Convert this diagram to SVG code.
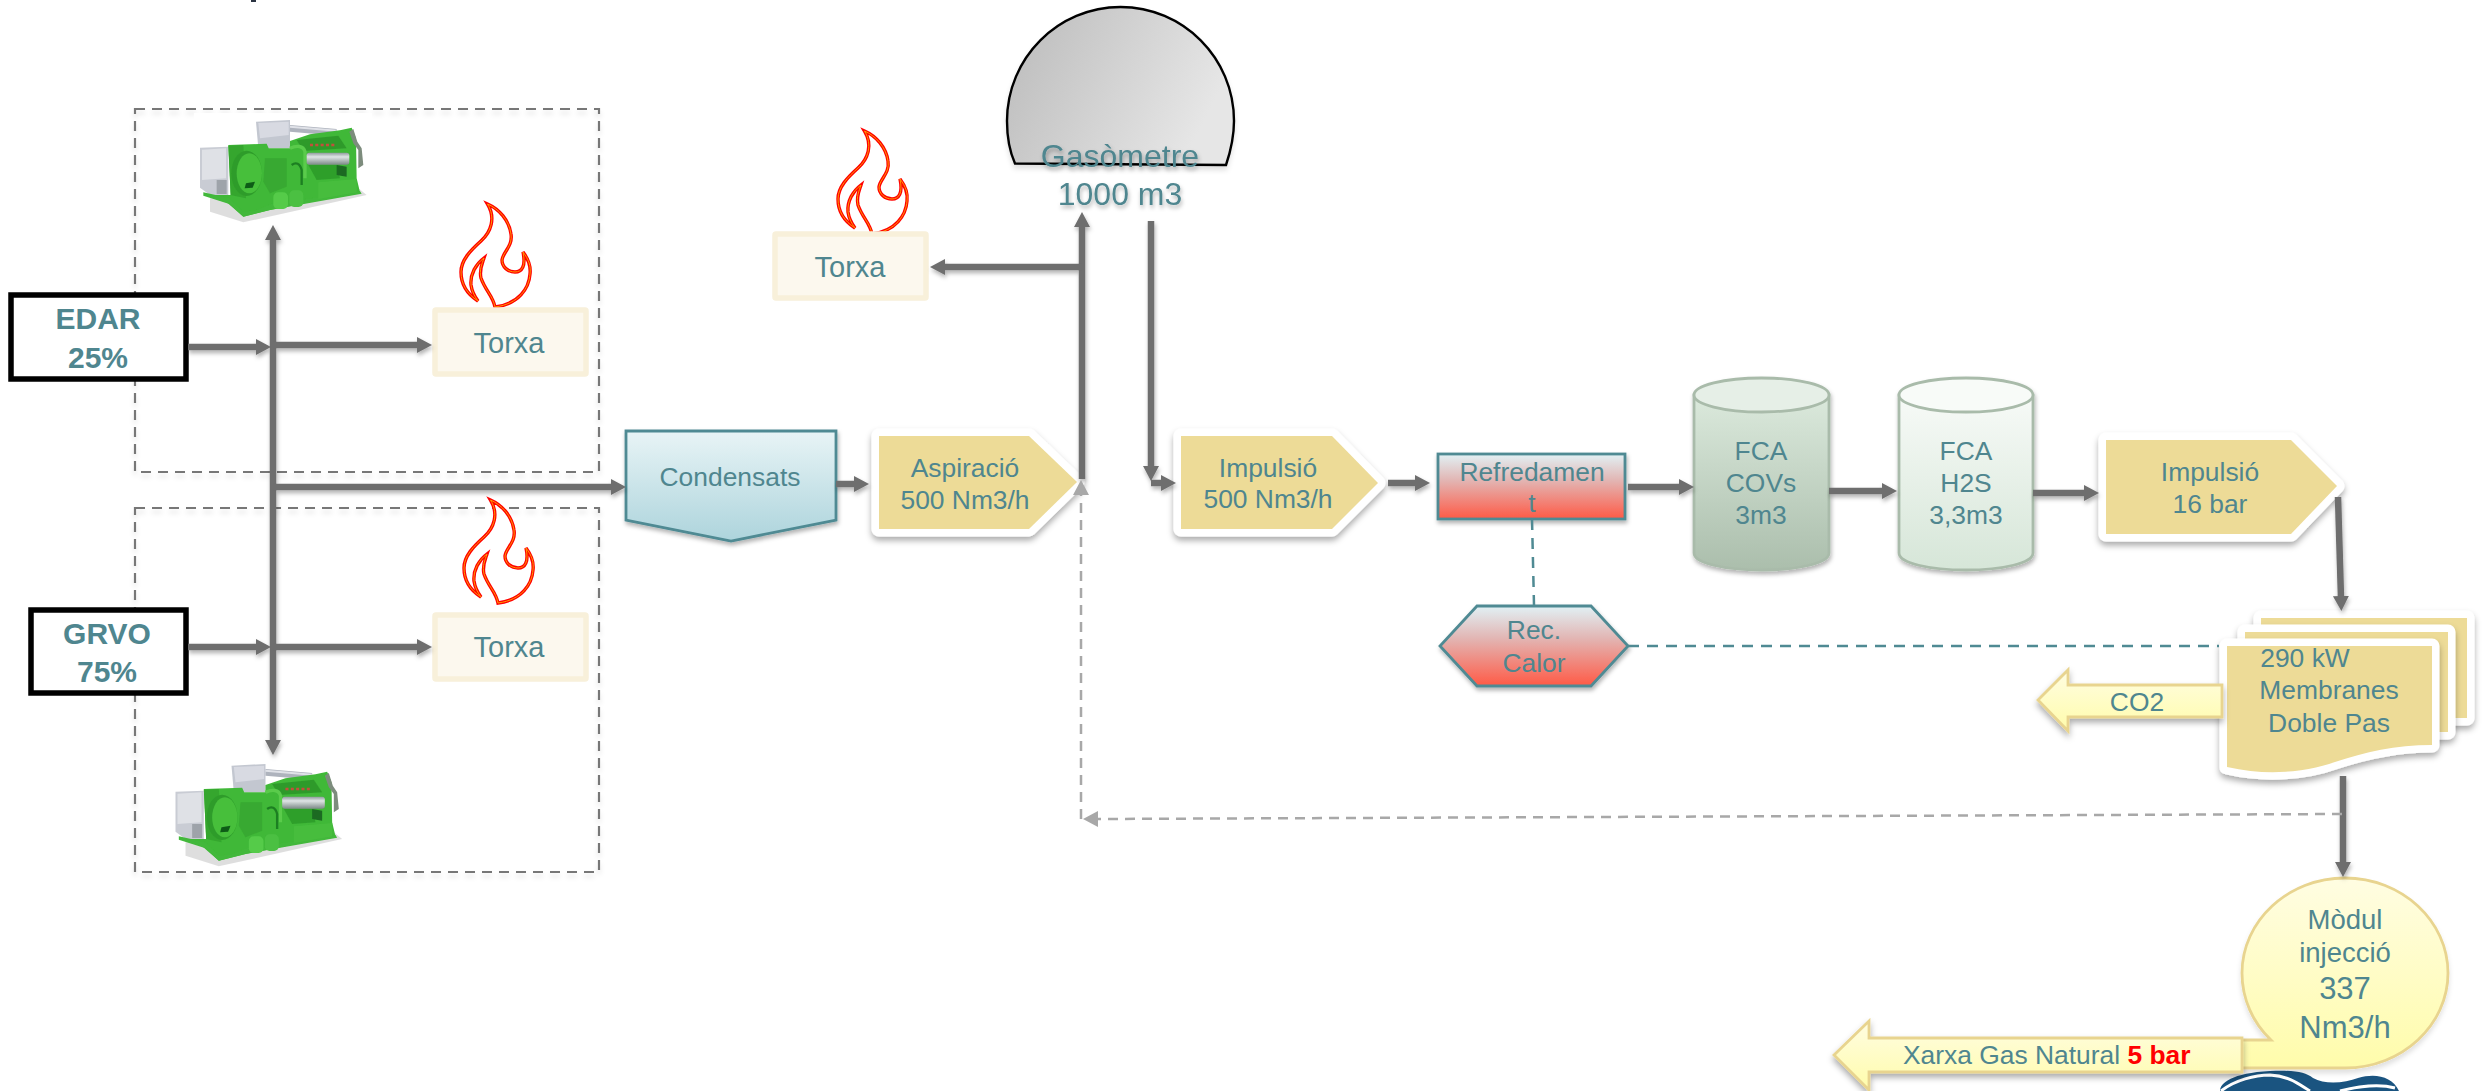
<svg xmlns="http://www.w3.org/2000/svg" xmlns:xlink="http://www.w3.org/1999/xlink" width="2488" height="1091" viewBox="0 0 2488 1091">
<style>
text{font-family:"Liberation Sans",Arial,sans-serif;font-size:26.4px;fill:#4f868f;text-anchor:middle}
.src{font-size:30px;font-weight:bold}
.tx{font-size:29px}
.gas{font-size:32px;filter:url(#ts)}
.box{fill:none;stroke:#777;stroke-width:2.2;stroke-dasharray:10 7}
.src-b{fill:#fff;stroke:#000;stroke-width:5.5}
.torxa{fill:#fcf8ee;stroke:#f8f0da;stroke-width:5.5}
.fl1{fill:#fff;stroke:#f00;stroke-width:3.4;stroke-linejoin:miter}
.fl2{fill:none;stroke:#ff9a00;stroke-width:1}
.teal{stroke:#4f8a93;stroke-width:2.8}
.pump{fill:#eddb97;stroke:#fff;stroke-width:15;stroke-linejoin:round;paint-order:stroke}
.pipe{fill:none;stroke:#6e6e6e;stroke-width:6.5}
.ah{marker-end:url(#ar)}
.dt{fill:none;stroke:#4f8a93;stroke-width:2.5;stroke-dasharray:11 8}
.dg{fill:none;stroke:#a8a8a8;stroke-width:2.5;stroke-dasharray:10 7}
.yel{fill:url(#gY);stroke:#e8d48f;stroke-width:2.8}
.cyl{stroke:#a9bbaa;stroke-width:2.8}
</style>
<defs>
<filter id="sh" filterUnits="userSpaceOnUse" x="0" y="0" width="2488" height="1091"><feDropShadow dx="0" dy="4" stdDeviation="3" flood-color="#000" flood-opacity=".33"/></filter>
<filter id="ts" filterUnits="userSpaceOnUse" x="0" y="0" width="2488" height="1091"><feDropShadow dx="1" dy="3" stdDeviation="2" flood-color="#000" flood-opacity=".3"/></filter>
<filter id="soft" filterUnits="userSpaceOnUse" x="0" y="0" width="2488" height="1091"><feDropShadow dx="0" dy="4" stdDeviation="2.5" flood-color="#000" flood-opacity=".12"/></filter>
<filter id="photo"><feGaussianBlur stdDeviation="1.200"/></filter>
<marker id="ar" markerUnits="userSpaceOnUse" markerWidth="16" markerHeight="18" viewBox="0 0 16 18" refX="2" refY="9" orient="auto"><path d="M0 1L15 9L0 17Z" fill="#6e6e6e"/></marker>
<marker id="ag" markerUnits="userSpaceOnUse" markerWidth="16" markerHeight="18" viewBox="0 0 16 18" refX="2" refY="9" orient="auto"><path d="M0 1L15 9L0 17Z" fill="#a8a8a8"/></marker>
<linearGradient id="gC" x1="0" y1="0" x2="0" y2="1"><stop offset="0" stop-color="#e8f4f6"/><stop offset="1" stop-color="#add4dc"/></linearGradient>
<linearGradient id="gH" x1="0" y1="0" x2="0" y2="1"><stop offset="0" stop-color="#e1f1f5"/><stop offset=".4" stop-color="#e2b6b4"/><stop offset="1" stop-color="#ff5a46"/></linearGradient>
<linearGradient id="gG" x1="0" y1="0" x2="1" y2=".35"><stop offset="0" stop-color="#bababa"/><stop offset="1" stop-color="#e6e6e6"/></linearGradient>
<linearGradient id="gV" x1="0" y1="0" x2="0" y2="1"><stop offset="0" stop-color="#dbe9dc"/><stop offset="1" stop-color="#abbeac"/></linearGradient>
<linearGradient id="gS" x1="0" y1="0" x2="0" y2="1"><stop offset="0" stop-color="#f7faf7"/><stop offset="1" stop-color="#d6e6d8"/></linearGradient>
<linearGradient id="gY" x1="0" y1="0" x2="0" y2="1"><stop offset="0" stop-color="#fffde2"/><stop offset="1" stop-color="#fffcab"/></linearGradient>
<linearGradient id="gM" x1="0" y1="0" x2="0" y2="1"><stop offset="0" stop-color="#8f9a9c"/><stop offset=".35" stop-color="#dfe5e5"/><stop offset="1" stop-color="#7d8a88"/></linearGradient>
<path id="flame" d="M26.5 0C38 5 48 16 50 30C52 42 42 48 41 56C41 63 47 68 54 68C61 68 65 62 62 48C68 56 70 62 69 70C68 84 58 100 34 103C32 92 24 86 20 74C18 66 21 60 23 54C15 60 9 70 10 81C11 88 14 93 17 97C6 90 0 80 0 68C0 56 10 46 20 37C30 28 35 14 26.5 0Z"/>
<g id="flm"><use xlink:href="#flame" class="fl1"/><use xlink:href="#flame" class="fl2"/></g>
<g id="eng" filter="url(#photo)">
<path d="M60 290L160 322L530 240L500 215L60 250Z" fill="#000" opacity=".13"/>
<path d="M198 20L300 15V100H205Z" fill="#c3c7d0"/><path d="M205 24L296 20V60L210 70Z" fill="#d8dae2"/>
<path d="M300 30L440 42V62L300 50Z" fill="#aeb3bd"/><path d="M300 32L440 44V50L300 38Z" fill="#e0e2e8"/>
<path d="M30 98L115 95V240H60L30 218Z" fill="#c9ccd4"/><path d="M36 104L108 100V190L36 195Z" fill="#dfe1e6"/><rect x="80" y="195" width="30" height="42" fill="#9ea3aa"/>
<path d="M115 90L230 86L236 100L300 100L300 78L360 58L450 46L485 38L498 70L500 190L510 232L240 285L160 305L110 262L40 240L122 240Z" fill="#3fb837"/>
<path d="M320 75L445 62L470 100L340 108Z" fill="#2f9a2c"/>
<path d="M360 90H440" stroke="#c2503a" stroke-width="7" stroke-dasharray="9 7"/>
<path d="M300 100C320 90 340 92 345 110V190" fill="none" stroke="#5acb4c" stroke-width="10"/>
<path d="M305 150C318 140 330 145 335 165V210" fill="none" stroke="#1e7f22" stroke-width="7"/>
<rect x="350" y="113" width="128" height="36" rx="8" fill="url(#gM)"/>
<path d="M355 150H440L450 190L380 195Z" fill="#2f9f2c"/>
<path d="M440 150L470 155V185L440 180Z" fill="#1a6a22"/>
<path d="M478 50L490 42L502 80L515 100L520 150L505 160V105L490 85Z" fill="#7d8c7d"/>
<path d="M115 92L160 90L168 250L122 240Z" fill="#34a62e"/>
<path d="M225 130H290V215L240 235L220 200Z" fill="#38a931"/>
<ellipse cx="170" cy="175" rx="46" ry="68" fill="#2f9c2b"/><ellipse cx="178" cy="175" rx="38" ry="60" fill="#46bf3b"/>
<path d="M168 205L195 200L188 218L164 220Z" fill="#0f5c18"/>
<path d="M40 232L120 250L160 290L200 285L240 268L510 228L515 236L240 285L160 305L120 268L40 242Z" fill="#42b83a"/>
<rect x="250" y="232" width="44" height="50" rx="14" fill="#55cb49"/><rect x="298" y="226" width="42" height="50" rx="14" fill="#4cc043"/>
<path d="M385 202L500 192V232L385 252Z" fill="#47bd3d"/>
</g>
</defs>
<rect width="2488" height="1091" fill="#fff"/>
<rect x="251" y="0" width="5" height="2" fill="#2b3442"/>

<g id="zones" filter="url(#soft)">
<rect class="box" x="135" y="109" width="464" height="363"/>
<rect class="box" x="135" y="508" width="464" height="364"/>
</g>

<g id="engine-1"><rect x="194" y="113" width="178" height="110" fill="#fff"/><use xlink:href="#eng" transform="translate(190 115) scale(.3333)"/></g>
<g id="engine-2"><rect x="170" y="757" width="176" height="112" fill="#fff"/><use xlink:href="#eng" transform="translate(165.500 759) scale(.3333)"/></g>

<g id="edar"><rect class="src-b" x="11" y="295" width="175" height="84"/><text class="src" x="98" y="329">EDAR</text><text class="src" x="98" y="368">25%</text></g>
<g id="grvo"><rect class="src-b" x="31" y="610" width="155" height="83"/><text class="src" x="107" y="644">GRVO</text><text class="src" x="107" y="682">75%</text></g>

<g id="torxa-1"><use xlink:href="#flm" transform="translate(461 204)"/><rect class="torxa" x="435" y="310" width="151" height="64" rx="1"/><text class="tx" x="509" y="353">Torxa</text></g>
<g id="torxa-2"><use xlink:href="#flm" transform="translate(464 500)"/><rect class="torxa" x="435" y="615" width="151" height="64" rx="1"/><text class="tx" x="509" y="657">Torxa</text></g>
<g id="torxa-3"><use xlink:href="#flm" transform="translate(838 131)"/><rect class="torxa" x="775" y="234" width="151" height="64" rx="1"/><text class="tx" x="850" y="277">Torxa</text></g>

<g id="condensats"><path class="teal" d="M626 431H836V520L731 541L626 520Z" fill="url(#gC)" filter="url(#ts)"/><text x="730" y="486">Condensats</text></g>

<g id="aspiracio"><path class="pump" d="M879 436H1029L1077 482L1029 529H879Z" filter="url(#sh)"/><text x="965" y="477">Aspiració</text><text x="965" y="509">500 Nm3/h</text></g>

<g id="gasometre"><path d="M1015 163.500C1009 150 1007 135 1007 121C1007 58 1058 7 1120.500 7C1183 7 1234 58 1234 121C1234 135 1231 150 1226 165Z" fill="url(#gG)" stroke="#000" stroke-width="2.400" filter="url(#soft)"/><text class="gas" x="1120" y="167">Gasòmetre</text><text class="gas" x="1120" y="205">1000 m3</text></g>

<g id="impulsio-1"><path class="pump" d="M1181 436H1332L1378 483L1332 529H1181Z" filter="url(#sh)"/><text x="1268" y="477">Impulsió</text><text x="1268" y="508">500 Nm3/h</text></g>

<g id="refredament"><rect class="teal" x="1438" y="454" width="187" height="65" fill="url(#gH)" filter="url(#ts)"/><text x="1532" y="481">Refredamen</text><text x="1532" y="512">t</text></g>

<g id="rec-calor"><path class="teal" d="M1477 606H1591L1628 646L1591 686H1477L1440 646Z" fill="url(#gH)" filter="url(#ts)"/><text x="1534" y="639">Rec.</text><text x="1534" y="672">Calor</text></g>

<g id="fca-covs"><g filter="url(#ts)"><path class="cyl" d="M1694 395V553C1694 563 1724 570 1761.500 570C1799 570 1829 563 1829 553V395Z" fill="url(#gV)"/><ellipse class="cyl" cx="1761.500" cy="395" rx="67.500" ry="17" fill="#e6efe7"/></g>
<text x="1761" y="460">FCA</text><text x="1761" y="492">COVs</text><text x="1761" y="524">3m3</text></g>

<g id="fca-h2s"><g filter="url(#ts)"><path class="cyl" d="M1899 395V553C1899 563 1929 570 1966 570C2003 570 2033 563 2033 553V395Z" fill="url(#gS)"/><ellipse class="cyl" cx="1966" cy="395" rx="67" ry="17" fill="#f8fbf8"/></g>
<text x="1966" y="460">FCA</text><text x="1966" y="492">H2S</text><text x="1966" y="524">3,3m3</text></g>

<g id="impulsio-2"><path class="pump" d="M2106 440H2291L2337 486L2291 534H2106Z" filter="url(#sh)"/><text x="2210" y="481">Impulsió</text><text x="2210" y="513">16 bar</text></g>

<g id="membranes">
<rect class="pump" x="2261" y="618" width="206" height="100" filter="url(#sh)"/>
<rect class="pump" x="2245" y="632" width="203" height="100" filter="url(#sh)"/>
<path class="pump" d="M2227 646H2432V745C2395 745 2365 752 2335 762C2310 771 2270 777 2227 767Z" filter="url(#sh)"/>
<text x="2305" y="667">290 kW</text><text x="2329" y="699">Membranes</text><text x="2329" y="732">Doble Pas</text>
</g>

<g id="co2"><path class="yel" d="M2038 700L2068 670V685H2222V717H2068V731Z" filter="url(#sh)"/><text x="2137" y="711">CO2</text></g>

<g id="logo"><path d="M2220 1091C2220 1083 2232 1073 2270 1071C2295 1070 2305 1072 2313 1078C2325 1085 2345 1083 2358 1078C2375 1073 2392 1076 2399 1091Z" fill="#1a5480"/><path d="M2221 1091C2235 1080 2255 1075 2270 1075C2290 1076 2300 1085 2310 1091M2340 1091C2360 1086 2380 1084 2395 1088" fill="none" stroke="#fff" stroke-width="3"/></g>

<g id="modul"><path class="yel" d="M2231 1040H2271C2253 1023 2242 999 2242 973C2242 921 2288 878 2345 878C2402 878 2448 921 2448 973C2448 1025 2402 1068 2345 1068H2231Z" filter="url(#soft)"/><text style="font-size:27.500px" x="2345" y="929">Mòdul</text><text style="font-size:27.500px" x="2345" y="962">injecció</text><text style="font-size:31px" x="2345" y="999">337</text><text style="font-size:31px" x="2345" y="1038">Nm3/h</text></g>

<g id="xarxa"><path class="yel" d="M1834 1055L1869 1021V1038H2242V1072H1869V1090Z" filter="url(#sh)"/><text x="1903" y="1064" style="text-anchor:start">Xarxa Gas Natural <tspan style="font-weight:bold;fill:#f00">5 bar</tspan></text></g>

<g id="connectors">
<g filter="url(#ts)">
<path class="pipe ah" d="M273 487V238"/>
<path class="pipe ah" d="M273 487V742"/>
<path class="pipe ah" d="M188 347H258"/>
<path class="pipe ah" d="M273 345H419"/>
<path class="pipe ah" d="M188 647H258"/>
<path class="pipe ah" d="M273 647H419"/>
<path class="pipe ah" d="M273 487H613"/>
<path class="pipe ah" d="M836 484H856"/>
<path class="pipe ah" d="M1082 479V225"/>
<path class="pipe ah" d="M1082 267H943"/>
<path class="pipe ah" d="M1151 221V468"/>
<path class="pipe ah" d="M1151 483H1163"/>
<path class="pipe ah" d="M1388 483H1417"/>
<path class="pipe ah" d="M1628 487H1681"/>
<path class="pipe ah" d="M1829 491H1884"/>
<path class="pipe ah" d="M2033 493H2086"/>
<path class="pipe ah" d="M2338 497L2341 598"/>
<path class="pipe ah" d="M2343 776V864"/>
</g>
<path class="dg" d="M2342 814L1096 819" marker-end="url(#ag)"/>
<path class="dg" d="M1081 819V493" marker-end="url(#ag)"/>
<path class="dt" d="M1532 519L1534 605"/>
<path class="dt" d="M1628 646H2219"/>
</g>
</svg>
